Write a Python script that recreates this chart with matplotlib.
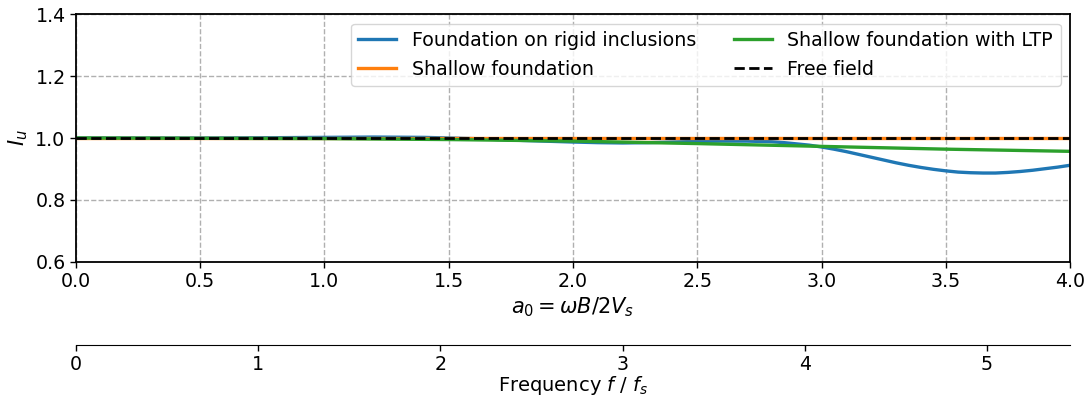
import numpy as np
import matplotlib
matplotlib.use("Agg")
import matplotlib.pyplot as plt

# Data
a0_rigid = [0.0, 0.5, 0.8, 1.0, 1.2, 1.4, 1.6, 1.8, 2.0, 2.1, 2.2, 2.3, 2.4, 2.5,
            2.6, 2.7, 2.8, 2.85, 2.9, 2.95, 3.0, 3.05, 3.1, 3.15, 3.2, 3.25, 3.3,
            3.35, 3.4, 3.45, 3.5, 3.55, 3.6, 3.65, 3.7, 3.75, 3.8, 3.85, 3.9,
            3.95, 4.0]
iu_rigid = [1.000, 1.000, 1.001, 1.002, 1.003, 1.002, 0.998, 0.992, 0.987, 0.985,
            0.984, 0.985, 0.987, 0.989, 0.990, 0.990, 0.988, 0.985, 0.981, 0.977,
            0.971, 0.964, 0.956, 0.947, 0.938, 0.929, 0.920, 0.912, 0.905, 0.899,
            0.894, 0.890, 0.888, 0.887, 0.887, 0.889, 0.892, 0.896, 0.901, 0.906,
            0.912]

a0_shallow = [0.0, 4.0]
iu_shallow = [1.0, 1.0]

a0_ltp = [0.0, 0.5, 1.0, 1.5, 2.0, 2.5, 3.0, 3.5, 4.0]
iu_ltp = [1.000, 0.999, 0.998, 0.995, 0.990, 0.982, 0.973, 0.964, 0.957]

a0_free = [0.0, 4.0]
iu_free = [1.0, 1.0]

freq_factor = 1.364  # f/fs per unit a0

plt.rcParams["xtick.major.size"] = 4
plt.rcParams["ytick.major.size"] = 4
plt.rcParams["xtick.major.width"] = 1.0
plt.rcParams["ytick.major.width"] = 1.0

fig = plt.figure(figsize=(10.87, 4.05), dpi=100)
ax = fig.add_axes([0.0699, 0.3531, 0.9145, 0.6123])

ax.plot(a0_rigid, iu_rigid, color="#1f77b4", lw=2.4, label="Foundation on rigid inclusions")
ax.plot(a0_shallow, iu_shallow, color="#ff7f0e", lw=2.4, label="Shallow foundation")
ax.plot(a0_ltp, iu_ltp, color="#2ca02c", lw=2.4, label="Shallow foundation with LTP")
ax.plot(a0_free, iu_free, color="black", lw=2.0, ls="--", label="Free field")

ax.set_xlim(0, 4)
ax.set_ylim(0.6, 1.4)
ax.set_xticks(np.arange(0, 4.01, 0.5))
ax.set_yticks(np.arange(0.6, 1.41, 0.2))
ax.tick_params(labelsize=13.7)
ax.grid(True, ls="--", color="#b0b0b0", lw=1.0)
ax.set_xlabel(r"$a_0 = \omega B/2V_s$", fontsize=15, labelpad=3)
ax.set_ylabel(r"$I_u$", fontsize=15)
for s in ax.spines.values():
    s.set_linewidth(1.3)

ax.legend(loc="upper right", ncol=2, fontsize=13.7, framealpha=0.8,
          handlelength=2, columnspacing=2.0)

sec = ax.secondary_xaxis(-0.335, functions=(lambda x: x * freq_factor,
                                            lambda x: x / freq_factor))
sec.set_xticks([0, 1, 2, 3, 4, 5])
sec.tick_params(labelsize=13.7)
sec.set_xlabel(r"Frequency $f$ / $f_s$", fontsize=14, labelpad=0)

fig.savefig("out.png", dpi=100)
